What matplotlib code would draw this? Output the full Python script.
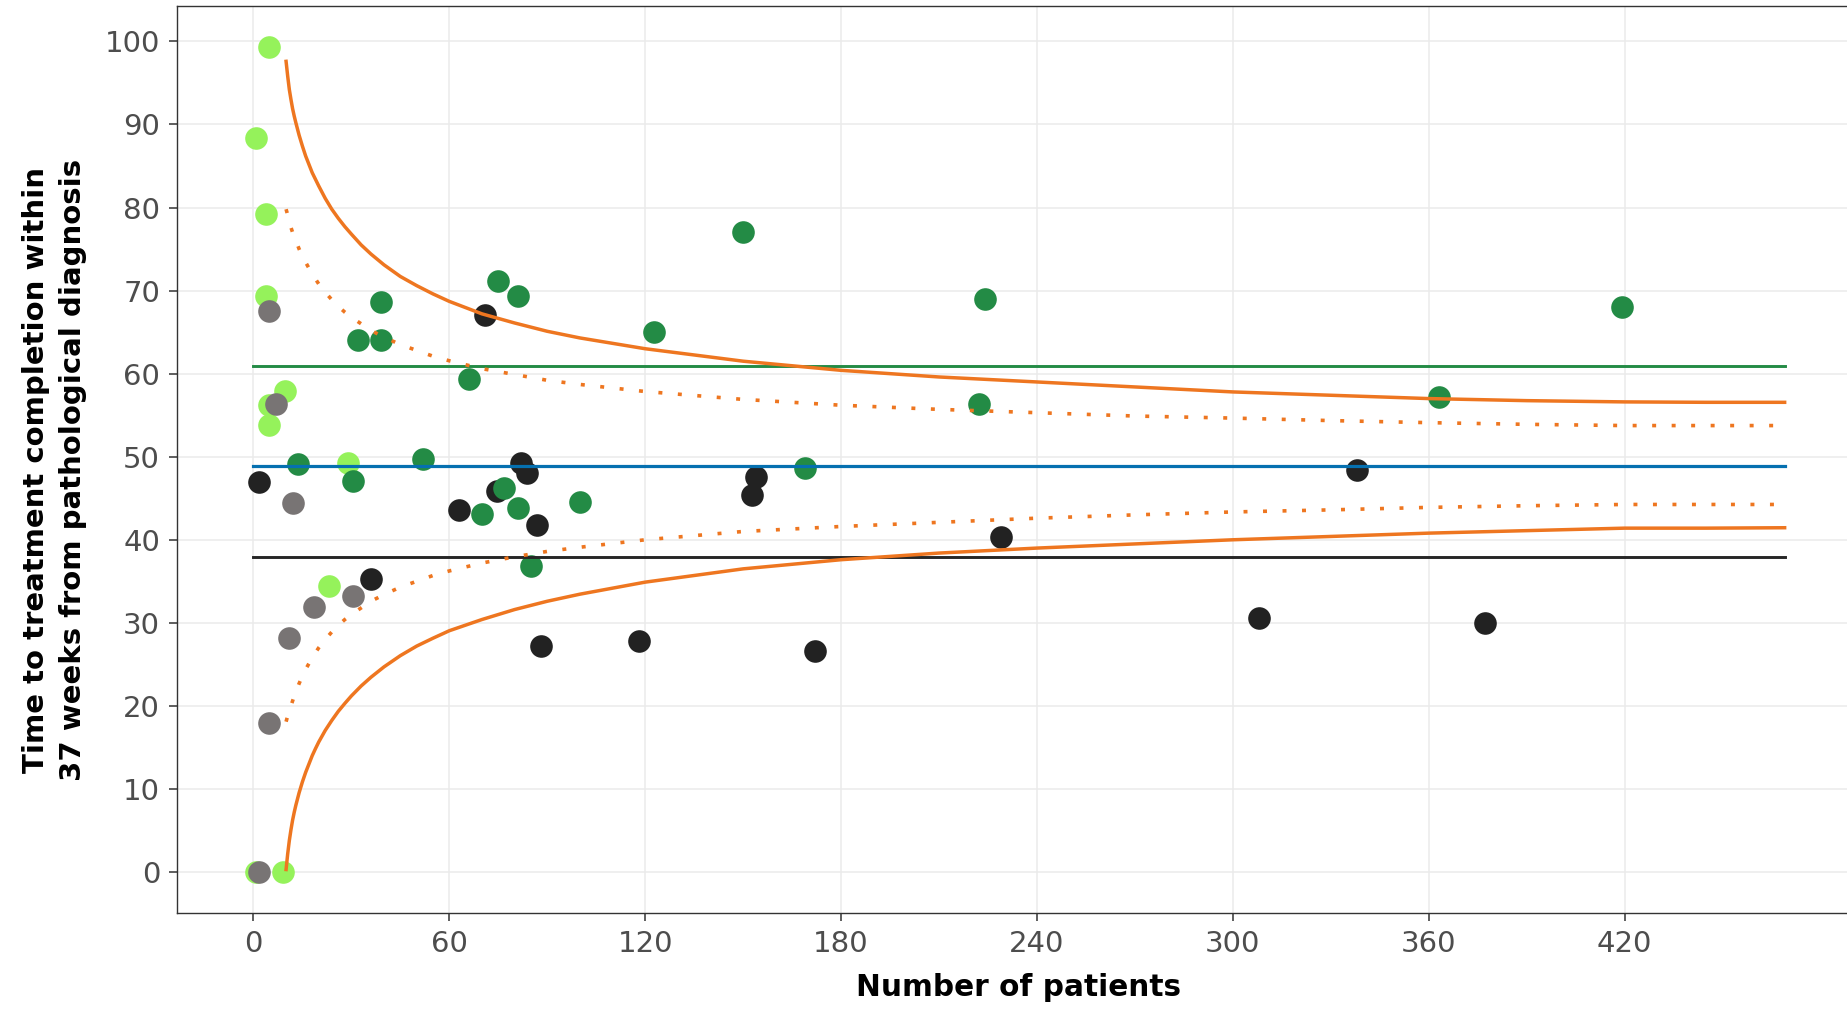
import matplotlib
matplotlib.use("Agg")
import matplotlib.pyplot as plt

# funnel plot: time to treatment completion within 37 weeks vs number of patients

# points, grouped by colour (n patients, % completed)
lg_n = [4.9, 0.7, 3.8, 3.8, 9.7, 4.9, 4.9, 28.9, 23.0, 0.7, 9.2]
lg_v = [99.3, 88.4, 79.2, 69.3, 57.9, 56.2, 53.8, 49.3, 34.45, 0.0, 0.0]

grey_n = [4.9, 6.9, 12.1, 30.6, 18.7, 10.9, 4.9, 1.7]
grey_v = [67.5, 56.4, 44.4, 33.25, 31.9, 28.2, 18.0, 0.0]

blk_n = [1.8, 35.9, 63.0, 70.8, 74.5, 82.0, 83.9, 86.9, 88.1, 118.0,
         152.8, 154.0, 172.1, 228.9, 308.0, 338.1, 377.3]
blk_v = [46.9, 35.3, 43.6, 67.1, 45.85, 49.3, 48.0, 41.75, 27.2, 27.8,
         45.4, 47.6, 26.6, 40.3, 30.6, 48.4, 30.0]

dg_n = [39.0, 31.9, 39.0, 75.0, 81.0, 66.1, 13.8, 30.6, 51.8, 76.8, 70.1,
        81.0, 85.1, 100.1, 122.8, 149.9, 169.0, 222.3, 224.1, 363.1, 419.3]
dg_v = [68.6, 64.0, 64.0, 71.1, 69.4, 59.3, 49.1, 47.05, 49.7, 46.2, 43.1,
        43.8, 36.9, 44.6, 65.0, 77.1, 48.6, 56.4, 69.0, 57.2, 68.0]

# control limits
lim_n = [10, 10.5, 11, 11.5, 12, 12.5, 13, 14, 15, 16, 17, 18, 19, 20, 22, 24,
         26, 28, 30, 33, 36, 40, 45, 50, 55, 60, 70, 80, 90, 100, 120, 150,
         180, 210, 240, 270, 300, 330, 360, 390, 420, 445, 469]
upper_998 = [97.6, 95.8, 94.2, 93.0, 91.9, 91.0, 90.2, 88.7, 87.4, 86.2, 85.2,
             84.2, 83.4, 82.6, 81.1, 79.8, 78.7, 77.7, 76.8, 75.5, 74.4, 73.1,
             71.7, 70.6, 69.6, 68.7, 67.2, 66.1, 65.1, 64.3, 63.0, 61.5, 60.4,
             59.6, 59.0, 58.4, 57.8, 57.4, 57.0, 56.75, 56.6, 56.55, 56.55]
lower_998 = [0.3, 2.2, 3.8, 5.1, 6.25, 7.2, 8.05, 9.55, 10.85, 12.0, 13.0, 14.0,
             14.85, 15.65, 17.05, 18.25, 19.35, 20.3, 21.2, 22.4, 23.45, 24.7,
             26.05, 27.2, 28.15, 29.05, 30.4, 31.6, 32.6, 33.45, 34.9, 36.5,
             37.6, 38.4, 39.0, 39.5, 40.0, 40.4, 40.8, 41.1, 41.4, 41.4, 41.45]
upper_95 = [79.8, 79.1, 78.2, 77.6, 77.0, 76.5, 76.0, 75.0, 74.1, 73.4, 72.7,
            72.0, 71.4, 70.8, 69.8, 68.9, 68.1, 67.4, 66.8, 66.0, 65.2, 64.4,
            63.5, 62.8, 62.1, 61.55, 60.6, 59.9, 59.2, 58.7, 57.85, 56.9, 56.2,
            55.7, 55.3, 54.9, 54.65, 54.35, 54.1, 53.9, 53.75, 53.75, 53.75]
lower_95 = [18.1, 18.8, 19.4, 20.0, 20.6, 21.2, 21.7, 22.7, 23.6, 24.4, 25.1,
            25.8, 26.4, 27.0, 28.0, 28.9, 29.7, 30.4, 31.0, 31.8, 32.6, 33.4,
            34.3, 35.0, 35.7, 36.25, 37.2, 37.95, 38.6, 39.1, 40.0, 41.0, 41.6,
            42.1, 42.6, 43.0, 43.35, 43.6, 43.9, 44.1, 44.25, 44.25, 44.25]

target_line = 60.9
mean_line = 48.9
low_line = 37.9
line_end = 469

orange = "#EE7620"

fig = plt.figure(figsize=(18.47, 10.10), dpi=100)
ax = fig.add_axes([176.7 / 1847, 1 - 913.3 / 1010, 1 - 176.7 / 1847, (913.3 - 5.7) / 1010])

ax.scatter(lg_n, lg_v, s=265, color="#95F25B", linewidths=0, zorder=2)
ax.scatter(grey_n, grey_v, s=265, color="#787474", linewidths=0, zorder=2.1)
ax.scatter(blk_n, blk_v, s=265, color="#222222", linewidths=0, zorder=2.2)
ax.scatter(dg_n, dg_v, s=265, color="#238B45", linewidths=0, zorder=2.3)

ax.plot([0, line_end], [target_line] * 2, color="#238B45", lw=2.1, zorder=3)
ax.plot([0, line_end], [mean_line] * 2, color="#0570B0", lw=2.3, zorder=3)
ax.plot([0, line_end], [low_line] * 2, color="#262626", lw=2.1, zorder=3)

ax.plot(lim_n, upper_998, color=orange, lw=2.5, zorder=3.5)
ax.plot(lim_n, lower_998, color=orange, lw=2.5, zorder=3.5)
for vals in (upper_95, lower_95):
    ax.plot(lim_n, vals, color=orange, lw=2.6, linestyle=(0, (1.1, 4.3)),
            dash_capstyle="butt", zorder=3.5)

ax.set_xlim(-23.5, 488.1)
ax.set_ylim(-4.97, 104.3)
ax.set_xticks(range(0, 421, 60))
ax.set_yticks(range(0, 101, 10))
ax.grid(True, color="#EBEBEB", lw=1.1, zorder=0)
ax.set_axisbelow(True)

for side in ["left", "bottom", "top"]:
    ax.spines[side].set_color("#333333")
    ax.spines[side].set_linewidth(1.0)
ax.spines["right"].set_visible(False)

ax.tick_params(axis="both", length=6, width=1.1, color="#333333",
               labelsize=21, labelcolor="#4D4D4D", pad=6)

fig.text(0.5517, 0.0218, "Number of patients", ha="center", va="center",
         fontsize=21.3, fontweight="bold", color="black")
fig.text(0.0297, 0.535, "Time to treatment completion within\n37 weeks from pathological diagnosis",
         ha="center", va="center", rotation=90, fontsize=21, fontweight="bold",
         color="black", linespacing=1.42)

fig.savefig("out.png", dpi=100)
